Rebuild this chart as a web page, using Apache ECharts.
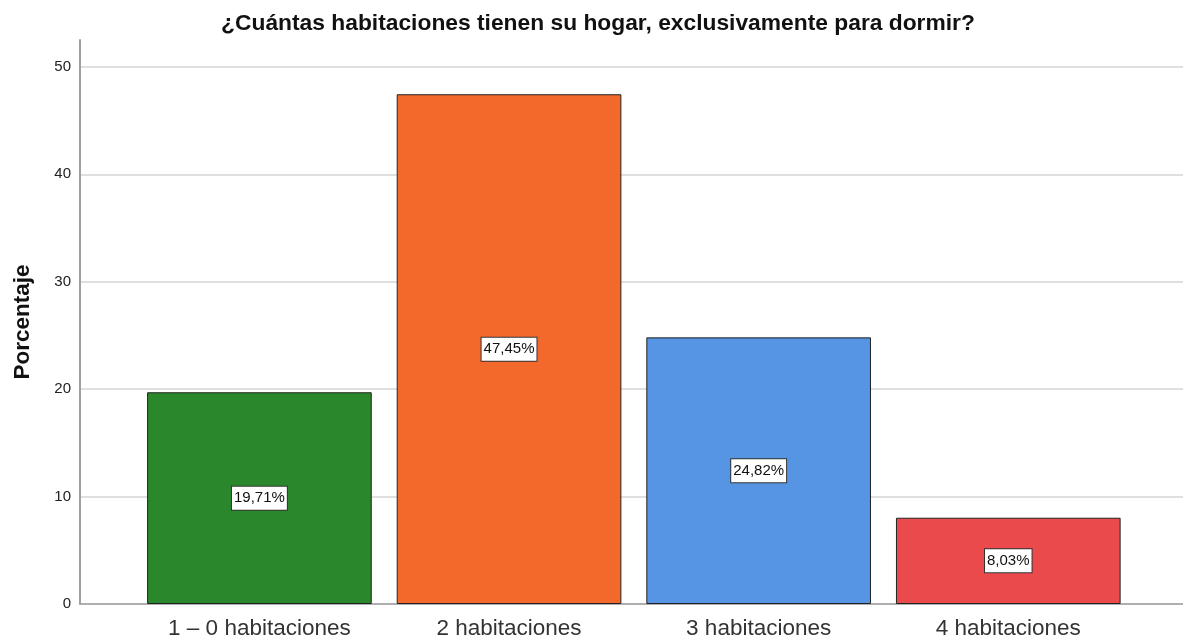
<!DOCTYPE html>
<html>
<head>
<meta charset="utf-8">
<script src="https://cdn.jsdelivr.net/npm/echarts@6/dist/echarts.min.js"></script>
<style>html,body{margin:0;padding:0;background:#fff}#c{width:1183px;height:639px}</style>
</head>
<body>
<div id="c"></div>
<script>
const title = '¿Cuántas habitaciones tienen su hogar, exclusivamente para dormir?';
const categories = ['1 – 0 habitaciones', '2 habitaciones', '3 habitaciones', '4 habitaciones'];
const values = [19.71, 47.45, 24.82, 8.03];
const barColors = ['#2b872b', '#f3692c', '#5595e3', '#eb4a4d'];
const yAxisName = 'Porcentaje';

const font = 'Arial, "Liberation Sans", sans-serif';
const chart = echarts.init(document.getElementById('c'));
chart.setOption({
  animation: false,
  backgroundColor: '#fff',
  title: {
    text: title, left: 593, textAlign: 'center', top: 7,
    textStyle: { fontFamily: font, fontSize: 22.8, fontWeight: 'bold', color: '#111' }
  },
  grid: [
    { left: 80, right: 0, top: 40, bottom: 35, outerBoundsMode: 'none', containLabel: false },
    { left: 134.6, width: 998.5, top: 40, bottom: 35, outerBoundsMode: 'none', containLabel: false }
  ],
  xAxis: [
    { gridIndex: 0, type: 'value', min: 0, max: 1,
      axisLine: { show: true, lineStyle: { color: '#a0a0a0', width: 1.5 } },
      axisTick: { show: false }, axisLabel: { show: false }, splitLine: { show: false } },
    { gridIndex: 1, type: 'category', data: categories,
      axisLine: { show: false }, axisTick: { show: false },
      axisLabel: { fontFamily: font, fontSize: 22.5, color: '#333', margin: 13 } }
  ],
  yAxis: [
    { gridIndex: 0, type: 'value', min: 0, max: 52.5, interval: 10,
      name: yAxisName, nameLocation: 'middle', nameGap: 46,
      nameTextStyle: { fontFamily: font, fontSize: 22.5, fontWeight: 'bold', color: '#111' },
      axisLine: { show: true, lineStyle: { color: '#a0a0a0', width: 2 } },
      axisTick: { show: false },
      axisLabel: { fontFamily: font, fontSize: 15, color: '#222', margin: 9, showMaxLabel: false },
      splitLine: { show: true, showMaxLine: false, lineStyle: { color: '#d4d4d4', width: 1.5 } } },
    { gridIndex: 1, type: 'value', min: 0, max: 52.5, show: false }
  ],
  series: [{
    type: 'bar', xAxisIndex: 1, yAxisIndex: 1,
    barWidth: '90%',
    data: values.map((v, i) => ({ value: v, itemStyle: { color: barColors[i] } })),
    itemStyle: { borderColor: '#222', borderWidth: 1 },
    label: {
      show: true, position: 'inside',
      formatter: p => p.value.toFixed(2).replace('.', ',') + '%',
      fontFamily: font, fontSize: 15, color: '#111',
      backgroundColor: '#fff', borderColor: '#333', borderWidth: 1,
      padding: [5, 2, 3, 2]
    }
  }]
});
</script>
</body>
</html>
